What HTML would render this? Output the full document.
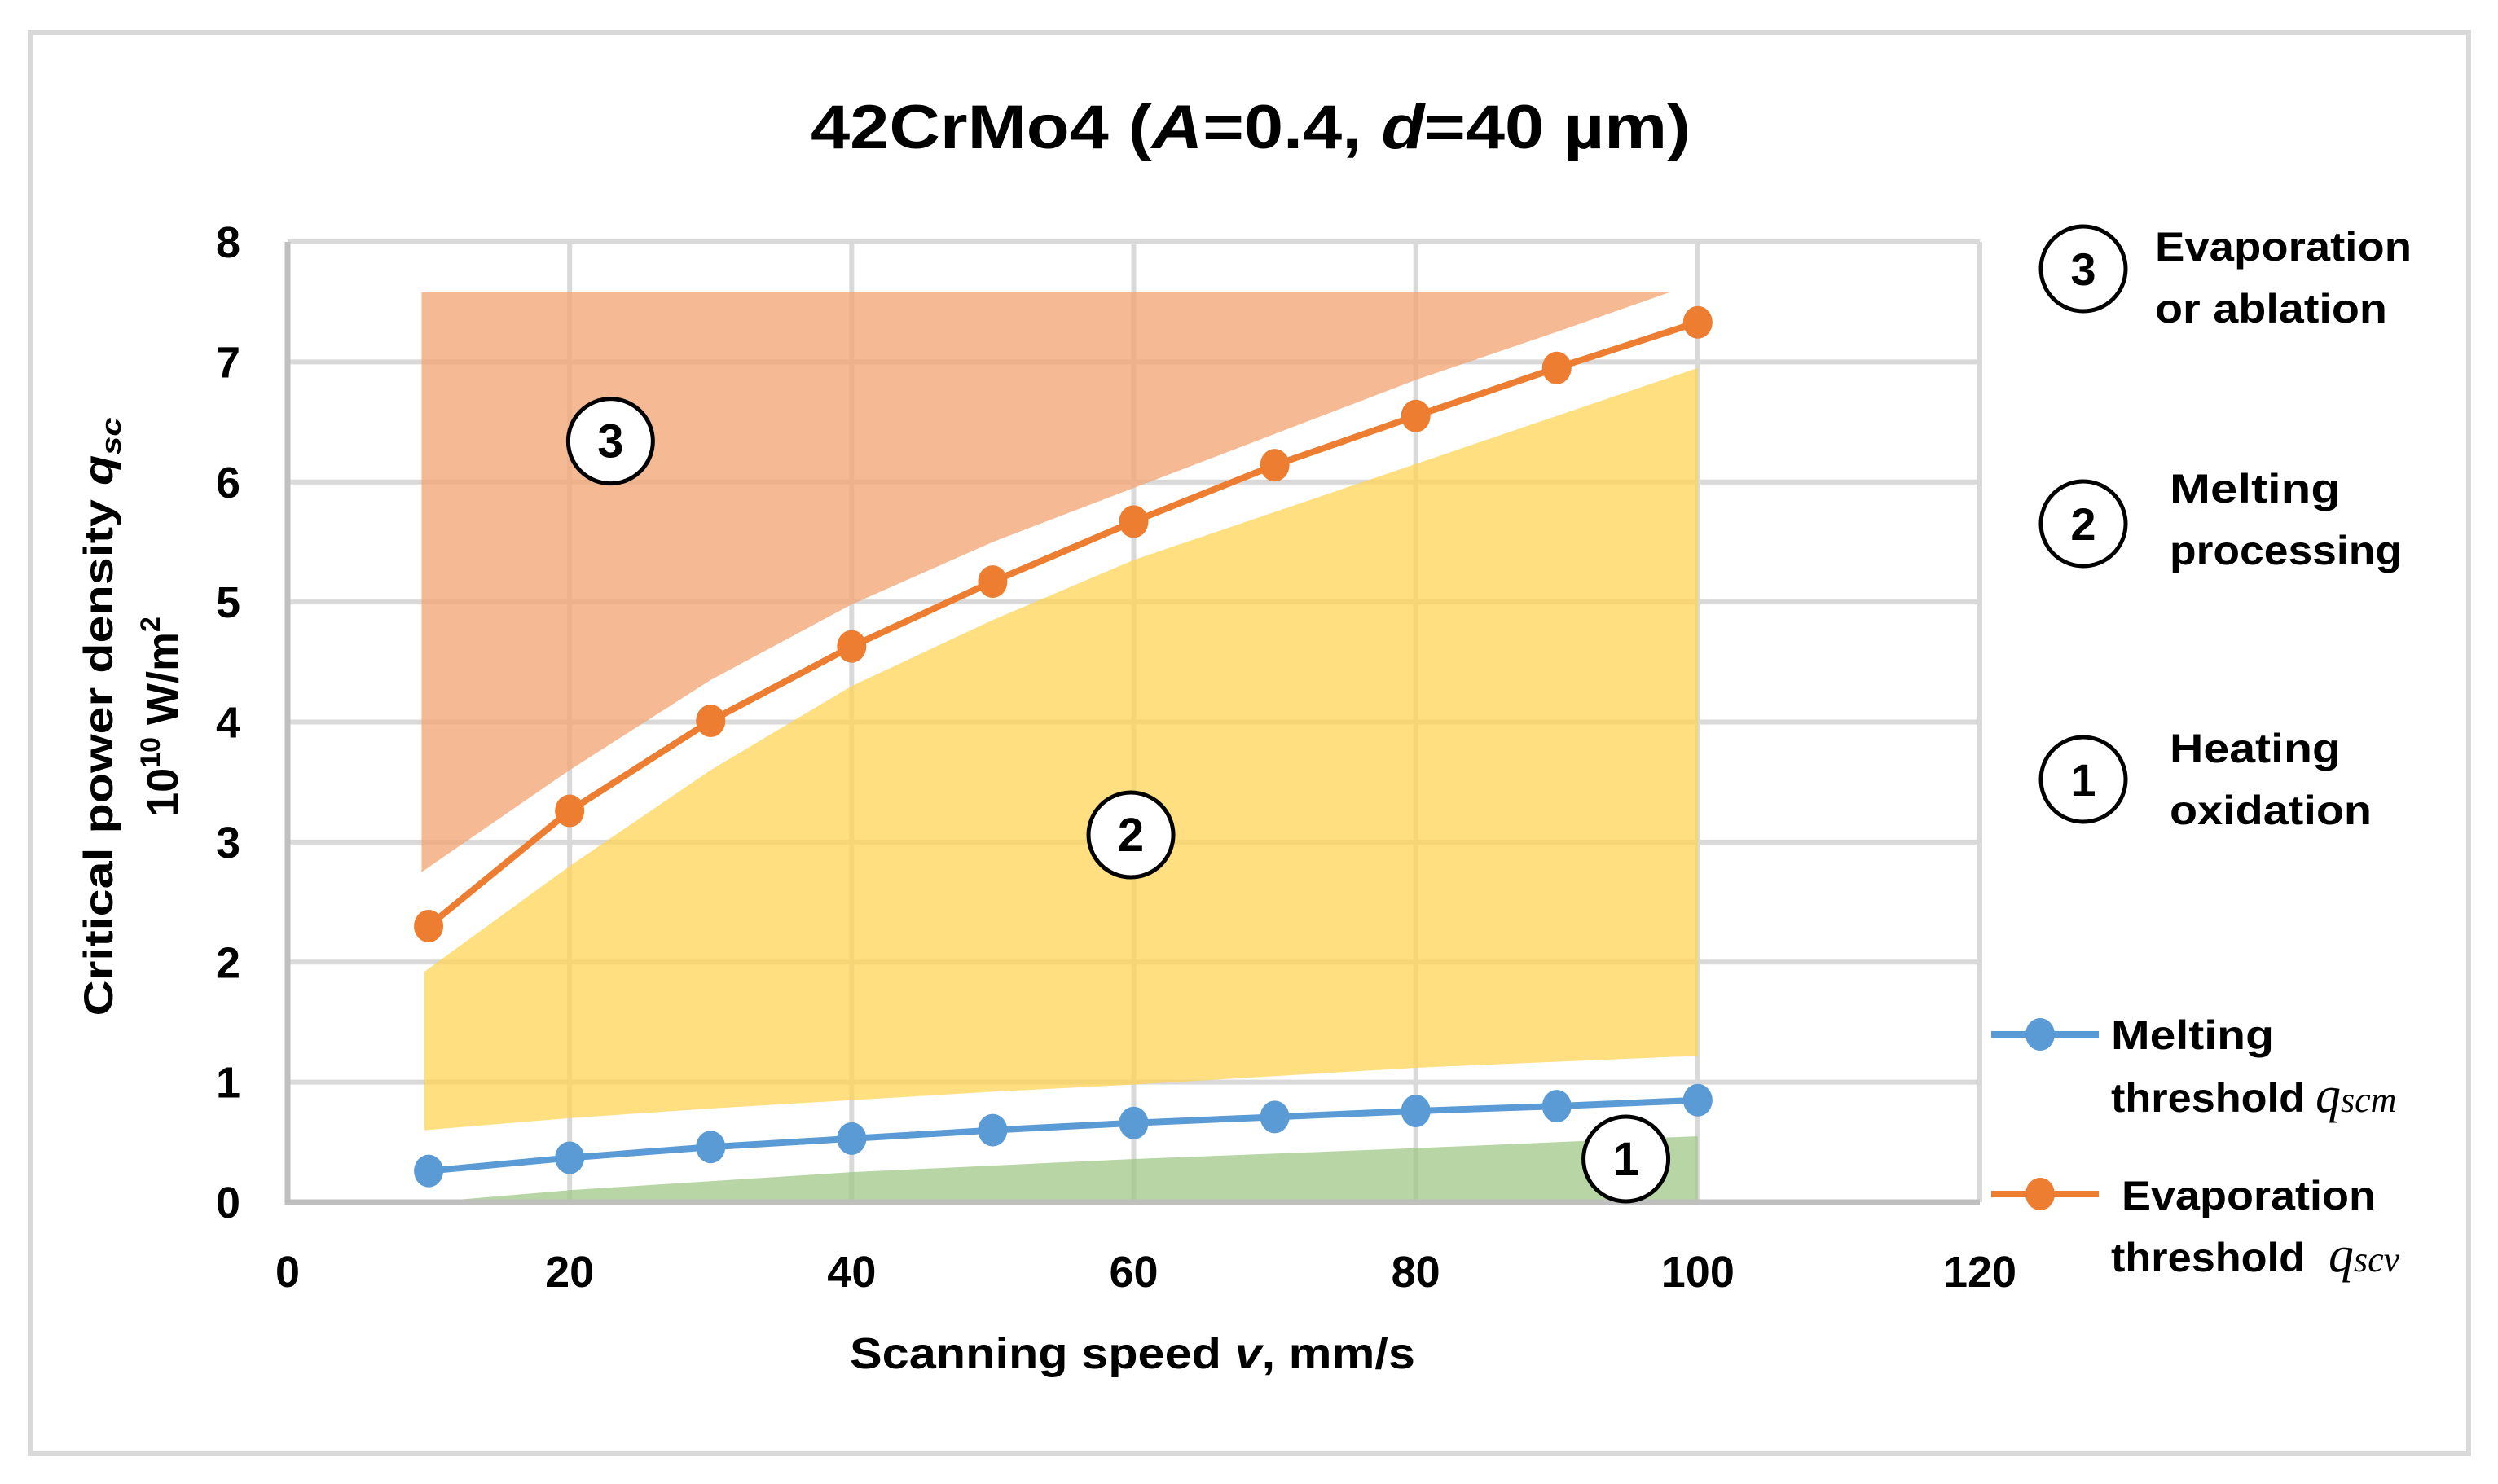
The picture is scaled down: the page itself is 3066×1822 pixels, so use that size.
<!DOCTYPE html>
<html><head><meta charset="utf-8"><style>
html,body{margin:0;padding:0;background:#fff;}
svg{display:block;}
text{font-family:"Liberation Sans",sans-serif;font-weight:bold;fill:#000;}
</style></head><body>
<svg id="chart" width="3066" height="1822" viewBox="0 0 3066 1822" xmlns="http://www.w3.org/2000/svg">
<rect x="37" y="40" width="2993" height="1745" fill="#fff" stroke="#d9d9d9" stroke-width="6"/>
<text x="1535" y="182" font-size="76" text-anchor="middle" textLength="1080" lengthAdjust="spacingAndGlyphs">42CrMo4 (<tspan font-style="italic">A</tspan>=0.4, <tspan font-style="italic">d</tspan>=40 µm)</text>
<g id="grid"></g>
<g id="areas"></g>
<g id="axes"></g>
<g id="series"></g>
<g id="labels"></g>
<text x="1390" y="1680" font-size="54" text-anchor="middle" textLength="694" lengthAdjust="spacingAndGlyphs">Scanning speed <tspan font-style="italic">v</tspan>, mm/s</text>
<g transform="translate(138,880) rotate(-90)">
<text x="0" y="0" font-size="50" text-anchor="middle" textLength="735" lengthAdjust="spacingAndGlyphs">Critical power density <tspan font-style="italic">q</tspan><tspan font-size="34" dy="10" font-style="italic">sc</tspan></text>
<text x="0" y="80" font-size="54" text-anchor="middle">10<tspan font-size="34" dy="-22">10</tspan><tspan dy="22"> W/m</tspan><tspan font-size="34" dy="-22">2</tspan></text>
</g>
<g id="legend">
<g>
<ellipse cx="2557" cy="330" rx="52" ry="52" fill="none" stroke="#000" stroke-width="5"/>
<text x="2557" y="350" font-size="56" text-anchor="middle">3</text>
<text x="2645" y="320" font-size="50" textLength="315" lengthAdjust="spacingAndGlyphs">Evaporation</text>
<text x="2645" y="396" font-size="50" textLength="285" lengthAdjust="spacingAndGlyphs">or ablation</text>
</g>
<g>
<ellipse cx="2557" cy="643" rx="52" ry="52" fill="none" stroke="#000" stroke-width="5"/>
<text x="2557" y="663" font-size="56" text-anchor="middle">2</text>
<text x="2663" y="617" font-size="50" textLength="210" lengthAdjust="spacingAndGlyphs">Melting</text>
<text x="2663" y="693" font-size="50" textLength="285" lengthAdjust="spacingAndGlyphs">processing</text>
</g>
<g>
<ellipse cx="2557" cy="957" rx="52" ry="52" fill="none" stroke="#000" stroke-width="5"/>
<text x="2557" y="977" font-size="56" text-anchor="middle">1</text>
<text x="2663" y="936" font-size="50" textLength="210" lengthAdjust="spacingAndGlyphs">Heating</text>
<text x="2663" y="1012" font-size="50" textLength="248" lengthAdjust="spacingAndGlyphs">oxidation</text>
</g>
<g>
<line x1="2444" y1="1270" x2="2576" y2="1270" stroke="#5b9bd5" stroke-width="8"/>
<ellipse cx="2504" cy="1270" rx="18" ry="20" fill="#5b9bd5"/>
<text x="2591" y="1288" font-size="50" textLength="200" lengthAdjust="spacingAndGlyphs">Melting</text>
<text x="2591" y="1365" font-size="50" textLength="238" lengthAdjust="spacingAndGlyphs">threshold</text>
<text x="2842" y="1365" style="font-family:'Liberation Serif',serif;font-style:italic;font-weight:normal;font-size:62px">q<tspan style="font-size:44px">scm</tspan></text>
</g>
<g>
<line x1="2444" y1="1466" x2="2576" y2="1466" stroke="#ed7d31" stroke-width="8"/>
<ellipse cx="2504" cy="1466" rx="18" ry="20" fill="#ed7d31"/>
<text x="2604" y="1485" font-size="50" textLength="312" lengthAdjust="spacingAndGlyphs">Evaporation</text>
<text x="2591" y="1561" font-size="50" textLength="238" lengthAdjust="spacingAndGlyphs">threshold</text>
<text x="2858" y="1561" style="font-family:'Liberation Serif',serif;font-style:italic;font-weight:normal;font-size:62px">q<tspan style="font-size:44px">scv</tspan></text>
</g>
</g>
</svg>
<script>
const xTicks = [0, 20, 40, 60, 80, 100, 120];
const yTicks = [0, 1, 2, 3, 4, 5, 6, 7, 8];
const speeds = [10, 20, 30, 40, 50, 60, 70, 80, 90, 100];
const evaporation = [2.30, 3.26, 4.01, 4.63, 5.17, 5.67, 6.14, 6.55, 6.95, 7.33];
const melting = [0.26, 0.37, 0.46, 0.53, 0.60, 0.66, 0.71, 0.76, 0.80, 0.85];
const regionX = [9.5, 20, 30, 40, 50, 60, 70, 80, 90, 98];
const region3Bottom = [2.75, 3.6, 4.35, 4.98, 5.5, 5.95, 6.4, 6.85, 7.25, 7.58];
const region3Top = 7.58;
const region2X = [9.7, 20, 30, 40, 50, 60, 70, 80, 90, 100];
const region2Top = [1.92, 2.8, 3.6, 4.3, 4.85, 5.35, 5.75, 6.15, 6.55, 6.95];
const region2Bottom = [0.6, 0.7, 0.78, 0.85, 0.92, 0.98, 1.05, 1.12, 1.17, 1.22];
const region1X = [10, 20, 40, 60, 80, 100];
const region1Top = [0, 0.1, 0.25, 0.36, 0.45, 0.55];
const labelNames = ['3', '2', '1'];
const labelX = [22.9, 59.8, 94.9];
const labelY = [6.34, 3.06, 0.36];

const NS = 'http://www.w3.org/2000/svg';
const X0 = 353, X1 = 2430, Y0 = 1476, Y1 = 297;
const sx = v => X0 + (v - 0) / 120 * (X1 - X0);
const sy = v => Y0 - v / 8 * (Y0 - Y1);
function mk(tag, attrs, parent) {
  const e = document.createElementNS(NS, tag);
  for (const k in attrs) e.setAttribute(k, attrs[k]);
  parent.appendChild(e);
  return e;
}
const grid = document.getElementById('grid');
const axes = document.getElementById('axes');
yTicks.forEach(t => {
  if (t > 0) {
    const l = mk('line', {x1: X0, x2: X1, y1: sy(t), y2: sy(t), stroke: '#d9d9d9', 'stroke-width': 6}, grid);
    
    
  }
  const tx = mk('text', {x: 280, y: sy(t) + 19, 'font-size': 54, 'text-anchor': 'middle'}, axes);
  tx.textContent = t;
  
  
});
xTicks.forEach(t => {
  if (t > 0) {
    const l = mk('line', {x1: sx(t), x2: sx(t), y1: Y1, y2: Y0, stroke: '#d9d9d9', 'stroke-width': 6}, grid);
    
    
  }
  const tx = mk('text', {x: sx(t), y: 1580, 'font-size': 54, 'text-anchor': 'middle'}, axes);
  tx.textContent = t;
  
  
});
const ya = mk('line', {x1: X0, x2: X0, y1: Y1, y2: Y0 + 3, stroke: '#bfbfbf', 'stroke-width': 7}, axes);


const xa = mk('line', {x1: X0, x2: X1, y1: Y0, y2: Y0, stroke: '#bfbfbf', 'stroke-width': 7}, axes);



const areas = document.getElementById('areas');
function poly(xs, top, bottom) {
  const pts = [];
  xs.forEach((x, i) => pts.push(sx(x) + ',' + sy(Array.isArray(top) ? top[i] : top)));
  for (let i = xs.length - 1; i >= 0; i--) pts.push(sx(xs[i]) + ',' + sy(Array.isArray(bottom) ? bottom[i] : bottom));
  return pts.join(' ');
}
const a3 = mk('polygon', {points: poly(regionX, region3Top, region3Bottom), fill: '#f2a675', 'fill-opacity': 0.78}, areas);


const a2 = mk('polygon', {points: poly(region2X, region2Top, region2Bottom), fill: '#ffd34f', 'fill-opacity': 0.72}, areas);


const a1 = mk('polygon', {points: poly(region1X, region1Top, 0), fill: '#9cc682', 'fill-opacity': 0.72}, areas);



const series = document.getElementById('series');
function drawSeries(vals, color, name) {
  const pl = mk('polyline', {points: speeds.map((s, i) => sx(s) + ',' + sy(vals[i])).join(' '), fill: 'none', stroke: color, 'stroke-width': 8}, series);
  
  
  speeds.forEach((s, i) => {
    const c = mk('ellipse', {cx: sx(s), cy: sy(vals[i]), rx: 18, ry: 20, fill: color}, series);
    
    
  });
}
drawSeries(melting, '#5b9bd5', 'melting-threshold');
drawSeries(evaporation, '#ed7d31', 'evaporation-threshold');

const labels = document.getElementById('labels');
labelNames.forEach((n, i) => {
  const c = mk('circle', {cx: sx(labelX[i]), cy: sy(labelY[i]), r: 52, fill: '#fff', stroke: '#000', 'stroke-width': 5}, labels);
  
  
  const t = mk('text', {x: sx(labelX[i]), y: sy(labelY[i]) + 20, 'font-size': 58, 'text-anchor': 'middle'}, labels);
  t.textContent = n;
  
  
});
</script>
</body></html>
